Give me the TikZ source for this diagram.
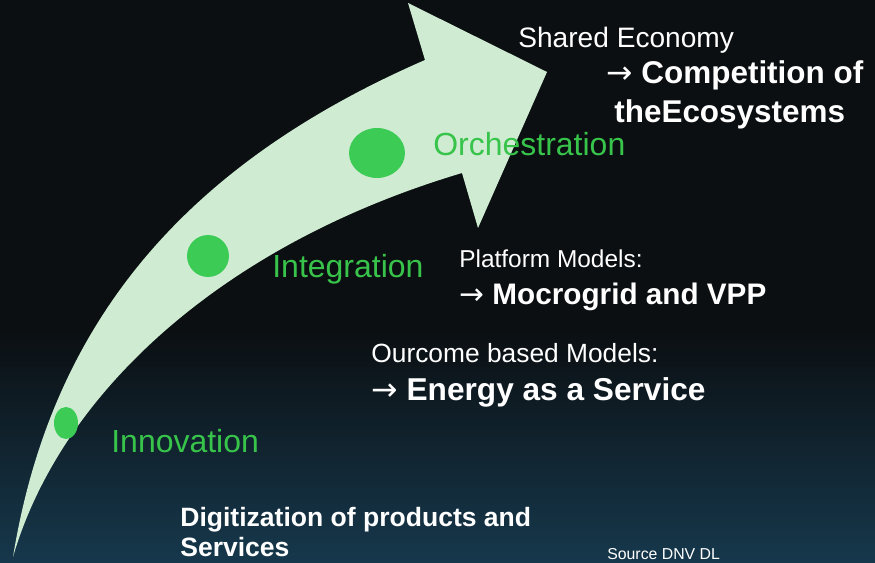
\documentclass[tikz,border=0pt]{standalone}
\usepackage{fontspec}
\setmainfont{Liberation Sans}
\newfontfamily\arrowfont{DejaVu Sans}
\newcommand{\toarrow}{{\arrowfont\mdseries →}}
\usetikzlibrary{shapes.geometric}
\definecolor{bgdark}{RGB}{11,15,18}
\definecolor{bgblue}{RGB}{22,56,76}
\definecolor{arrowgreen}{RGB}{207,236,210}
\definecolor{dotgreen}{RGB}{60,204,86}
\definecolor{stagegreen}{RGB}{56,196,74}

\begin{document}
\begin{tikzpicture}[x=0.02cm, y=-0.02cm,
  stage/.style={text=stagegreen, font=\fontsize{18.2}{20}\selectfont, anchor=base west, inner sep=0},
  lbl/.style={text=white, anchor=base west, inner sep=0},
  dot/.style={ellipse, fill=dotgreen, inner sep=0}]
\useasboundingbox (0,0) rectangle (875,563);
%background
\fill[bgdark] (0,0) rectangle (875,563);
\shade[top color=bgdark, bottom color=bgblue] (0,330) rectangle (875,563);

%the big arrow
\fill[arrowgreen] (13,557) .. controls (60,395) and (220,245) .. (462,173)
  -- (478,228) -- (547,72) -- (408,3) -- (425,60)
  .. controls (177,168) and (50,330) .. (13,557) -- cycle;

%stages
\node[dot, minimum width=0.48cm, minimum height=0.64cm] (d1) at (66,423) {};
\node[dot, minimum width=0.84cm, minimum height=0.84cm] (d2) at (208,256) {};
\node[dot, minimum width=1.12cm, minimum height=1.0cm] (d3) at (377,153) {};
\node[stage] (innov) at (111,453) {Innovation};
\node[stage] (integ) at (272,278) {Integration};
\node[stage] (orch) at (433,156) {Orchestration};

%models
\node[lbl, font=\fontsize{16}{18}\selectfont] (shared) at (518,48) {Shared Economy};
\node[lbl, font=\fontsize{17.9}{20}\selectfont] (compet) at (606,84) {\toarrow\ \textbf{Competition of}};
\node[lbl, font=\fontsize{17.9}{20}\selectfont\bfseries] (ecosys) at (614,123) {theEcosystems};
\node[lbl, font=\fontsize{13.9}{16}\selectfont] (platf) at (459,268) {Platform Models:};
\node[lbl, font=\fontsize{16.9}{19}\selectfont] (micro) at (459,305) {\toarrow\ \textbf{Mocrogrid and VPP}};
\node[lbl, font=\fontsize{15}{17}\selectfont] (outc) at (371,363) {Ourcome based Models:};
\node[lbl, font=\fontsize{18}{20}\selectfont] (energy) at (371,400) {\toarrow\ \textbf{Energy as a Service}};
\node[lbl, font=\fontsize{15.1}{17}\selectfont\bfseries] (digit) at (180,526) {Digitization of products and};
\node[lbl, font=\fontsize{15.1}{17}\selectfont\bfseries] (serv) at (180,556) {Services};
\node[lbl, font=\fontsize{9}{11}\selectfont] (source) at (607,559) {Source DNV DL};
\end{tikzpicture}
\end{document}
